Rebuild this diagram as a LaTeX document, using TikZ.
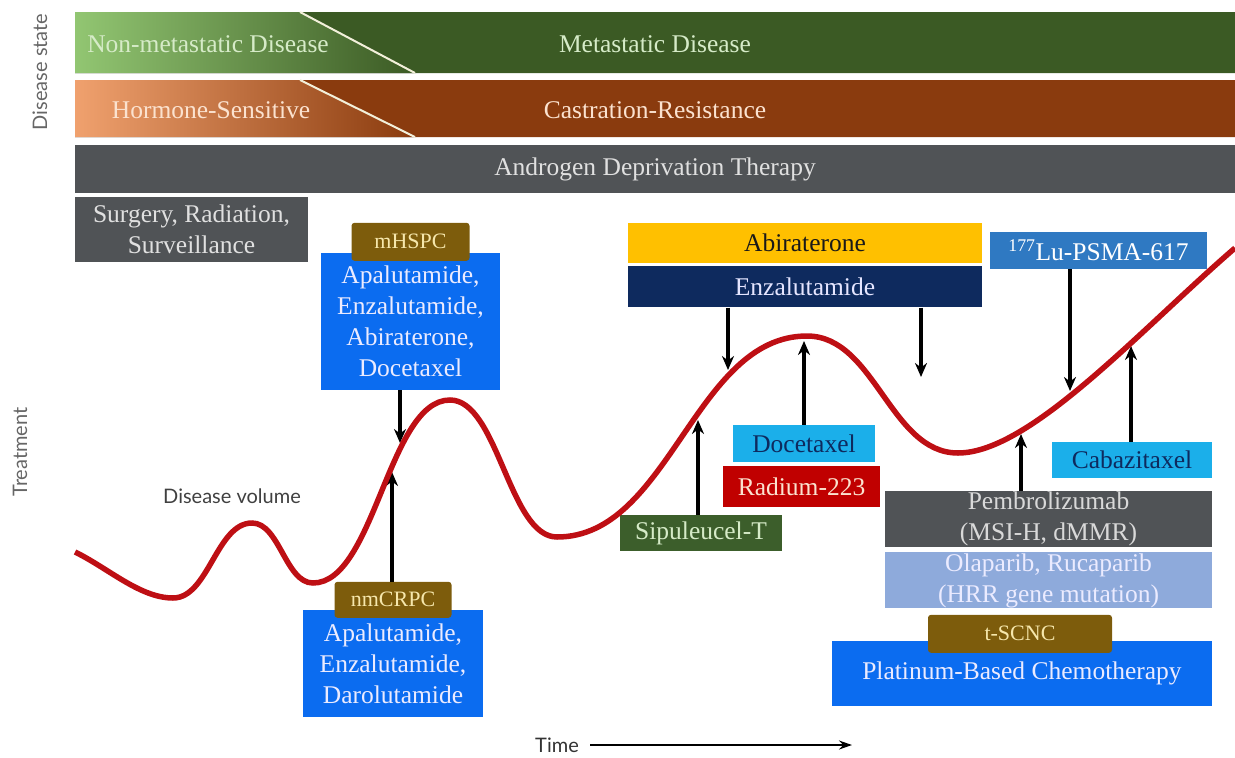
\documentclass[tikz,border=0pt]{standalone}
\usepackage{fontspec}
\setmainfont{Liberation Serif}
\newfontfamily\axisfont{Lato}
\usepackage{tikz}
\usetikzlibrary{positioning,arrows.meta,calc}

\definecolor{barGreen}{HTML}{3B5A24}
\definecolor{barGreenLight}{HTML}{92C672}
\definecolor{greenText}{HTML}{D6EBC8}
\definecolor{barBrown}{HTML}{8A3B0E}
\definecolor{barBrownLight}{HTML}{F0A16E}
\definecolor{peachText}{HTML}{FBE2CF}
\definecolor{barGray}{HTML}{505356}
\definecolor{tagBrown}{HTML}{7D5C0C}
\definecolor{tagText}{HTML}{F6E7AC}
\definecolor{drugBlue}{HTML}{0B6CF0}
\definecolor{skyBlue}{HTML}{1BAFEA}
\definecolor{navyBlue}{HTML}{0E2A5E}
\definecolor{luBlue}{HTML}{2F79C2}
\definecolor{paleBlue}{HTML}{8EAADB}
\definecolor{goldFill}{HTML}{FFC000}
\definecolor{radRed}{HTML}{C00000}
\definecolor{sipGreen}{HTML}{3C5E2B}
\definecolor{curveRed}{HTML}{BE0F14}
\definecolor{divider}{HTML}{F2F0DA}

\tikzstyle{arrow} = [line width=3.5pt, -{Stealth[length=14pt,width=12pt]}]
\tikzstyle{timeline} = [line width=1.8pt, -{Stealth[length=13pt,width=9pt]}]
\tikzstyle{volume} = [line width=5.5pt, curveRed]
\tikzstyle{cut} = [line width=2pt, divider]

\begin{document}
\begin{tikzpicture}[x=1pt, y=1pt]
\tikzset{%
	bigtext/.style = { font=\fontsize{25.5}{31}\selectfont },
	bar/.style = { bigtext, inner sep=0pt },
	drug/.style = { rectangle, bigtext, inner sep=0pt, align=center },
	tag/.style = { rectangle, rounded corners=3pt, fill=tagBrown, text=tagText, inner sep=0pt, font=\fontsize{22}{26}\selectfont },
	axis/.style = { font=\axisfont\fontsize{20}{24}\selectfont, text=black!60 }
}
\useasboundingbox (0,0) rectangle (1235,-758);

% disease state bars
\fill [barGreen] (300,-12) -- (1235,-12) -- (1235,-73) -- (415,-73) -- cycle;
\fill [left color=barGreenLight, right color=barGreen] (75,-12) -- (300,-12) -- (415,-73) -- (75,-73) -- cycle;
\draw [cut] (300,-12) -- (415,-73);
\fill [barBrown] (300,-80) -- (1235,-80) -- (1235,-137) -- (415,-137) -- cycle;
\fill [left color=barBrownLight, right color=barBrown] (75,-80) -- (300,-80) -- (415,-137) -- (75,-137) -- cycle;
\draw [cut] (300,-80) -- (415,-137);

\node(NonMeta)		[bar, text=greenText] at (208,-44)
						{Non-metastatic Disease};
\node(Meta)			[bar, text=greenText] at (655,-44)
						{Metastatic Disease};
\node(HormSens)		[bar, text=peachText] at (211,-110)
						{Hormone-Sensitive};
\node(CastRes)		[bar, text=peachText] at (655,-110)
						{Castration-Resistance};
\node(Adt)			[drug, fill=barGray, text=white!88!black, minimum width=1160pt, minimum height=48pt] at (655,-169)
						{Androgen Deprivation Therapy};

\node(StateAxis)	[axis, rotate=90] at (40,-72)
						{Disease state};
\node(TreatAxis)	[axis, rotate=90] at (20,-452)
						{Treatment};
\node(VolumeLabel)	[axis, text=black!75] at (232,-496)
						{Disease volume};
\node(TimeLabel)	[axis, text=black!80] at (557,-745)
						{Time};

\node(Surgery)		[drug, fill=barGray, text=white!88!black, minimum width=233pt, minimum height=65pt] at (191.5,-229.5)
						{Surgery, Radiation,\\ Surveillance};

\node(MhspcBox)		[drug, fill=drugBlue, text=white!92!blue, minimum width=179pt, minimum height=137pt] at (410.5,-321.5)
						{Apalutamide,\\ Enzalutamide,\\ Abiraterone,\\ Docetaxel};
\node(MhspcTag)		[tag, minimum width=118pt, minimum height=38pt] at ([yshift=11pt]MhspcBox.north)
						{mHSPC};

\node(NmcrpcBox)	[drug, fill=drugBlue, text=white!92!blue, minimum width=180pt, minimum height=107pt] at (393,-663.5)
						{Apalutamide,\\ Enzalutamide,\\ Darolutamide};
\node(NmcrpcTag)	[tag, minimum width=117pt, minimum height=36pt] at ([yshift=10pt]NmcrpcBox.north)
						{nmCRPC};

\node(Abiraterone)	[drug, fill=goldFill, text=black!90, minimum width=354pt, minimum height=40pt] at (805,-243)
						{Abiraterone};
\node(Enzalutamide)	[drug, fill=navyBlue, text=white!90!blue, minimum width=354pt, minimum height=41pt, below=3pt of Abiraterone]
						{Enzalutamide};

\node(Docetaxel)	[drug, fill=skyBlue, text=navyBlue, minimum width=142pt, minimum height=37pt] at (804,-443.5)
						{Docetaxel};
\node(Radium)		[drug, fill=radRed, text=peachText, minimum width=157pt, minimum height=41pt, below=4pt of Docetaxel, xshift=-2.5pt]
						{Radium-223};
\node(Sipuleucel)	[drug, fill=sipGreen, text=greenText, minimum width=162pt, minimum height=36pt] at (701,-533)
						{Sipuleucel-T};

\node(Lutetium)		[drug, fill=luBlue, text=white, minimum width=217pt, minimum height=37pt] at (1098.5,-250.5)
						{\textsuperscript{177}Lu-PSMA-617};
\node(Cabazitaxel)	[drug, fill=skyBlue, text=navyBlue, minimum width=160pt, minimum height=36pt] at (1132,-460)
						{Cabazitaxel};
\node(Pembro)		[drug, fill=barGray, text=white!85!black, minimum width=327pt, minimum height=56pt] at (1048.5,-519)
						{Pembrolizumab\\ (MSI-H, dMMR)};
\node(Olaparib)		[drug, fill=paleBlue, text=white!92!blue, minimum width=327pt, minimum height=56pt, below=5pt of Pembro]
						{Olaparib, Rucaparib\\ (HRR gene mutation)};
\node(Platinum)		[drug, fill=drugBlue, text=white!92!blue, minimum width=380pt, minimum height=65pt] at (1022,-673.5)
						{Platinum-Based Chemotherapy};
\node(TscncTag)		[tag, minimum width=184pt, minimum height=38pt] at ([yshift=7pt, xshift=-2pt]Platinum.north)
						{t-SCNC};

\coordinate (MhspcTip) at (400,-443);
\coordinate (NmcrpcTip) at (392,-472);
\coordinate (EnzTipA) at (728,-370);
\coordinate (EnzTipB) at (921,-377);
\coordinate (DoceTip) at (804,-341);
\coordinate (SipTip) at (698,-420);
\coordinate (LuTip) at (1070,-391);
\coordinate (CabaTip) at (1131,-346);
\coordinate (PembroTip) at (1021,-434);
\coordinate (TimeEnd) at (852,-745);

\draw [arrow]	(MhspcBox.south -| MhspcTip) -- (MhspcTip);
\draw [arrow]	(NmcrpcTag.north -| NmcrpcTip) -- (NmcrpcTip);
\draw [arrow]	(Enzalutamide.south -| EnzTipA) -- (EnzTipA);
\draw [arrow]	(Enzalutamide.south -| EnzTipB) -- (EnzTipB);
\draw [arrow]	(Docetaxel.north -| DoceTip) -- (DoceTip);
\draw [arrow]	(Sipuleucel.north -| SipTip) -- (SipTip);
\draw [arrow]	(Lutetium.south -| LuTip) -- (LuTip);
\draw [arrow]	(Cabazitaxel.north -| CabaTip) -- (CabaTip);
\draw [arrow]	(Pembro.north -| PembroTip) -- (PembroTip);
\draw [timeline]	([xshift=8pt]TimeLabel.east) -- (TimeEnd);

% disease volume curve
\draw [volume] (75,-552) .. controls (108,-568) and (140,-598) .. (173,-598)
	.. controls (208.5,-598) and (216.5,-523) .. (252,-523)
	.. controls (279.5,-523) and (285.5,-583) .. (313,-583)
	.. controls (374.7,-583) and (388.3,-400) .. (450,-400)
	.. controls (498,-400) and (509,-537) .. (557,-537)
	.. controls (669.5,-537) and (694.5,-336) .. (807,-336)
	.. controls (875,-336) and (890,-453) .. (958,-453)
	.. controls (1030,-453) and (1140,-330) .. (1235,-248);

\end{tikzpicture}
\end{document}
